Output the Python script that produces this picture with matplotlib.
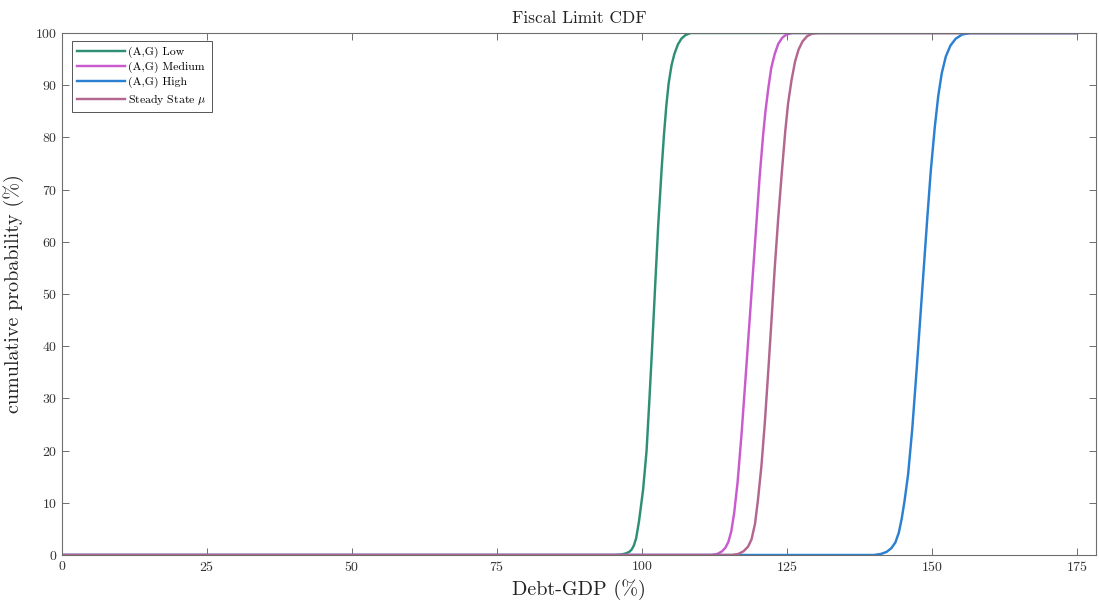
import matplotlib
matplotlib.use("Agg")
import matplotlib.pyplot as plt

# ── data (debt-GDP %, cumulative probability %) ─────────────────────────────

LOW_X = [0, 95.5, 96.5, 97.2, 97.8, 98.2, 98.6, 99.0, 99.5, 100.2, 100.8,
         101.3, 101.7, 102.3, 102.8, 103.4, 103.8, 104.2, 104.6, 105.1,
         105.6, 106.2, 106.8, 107.5, 108.4, 175]
LOW_Y = [0, 0, 0.1, 0.3, 0.6, 1.0, 1.8, 3.2, 6.5, 12.5, 20.0,
         30.0, 38.5, 52.0, 63.0, 74.0, 80.5, 86.0, 90.3, 93.8,
         96.0, 97.8, 98.9, 99.6, 100, 100]

MED_X = [0, 112.0, 113.0, 113.8, 114.4, 114.9, 115.4, 115.9, 116.5, 117.2,
         118.0, 118.6, 119.2, 119.8, 120.3, 120.9, 121.3, 121.8, 122.3,
         122.9, 123.5, 124.2, 124.9, 125.9, 175]
MED_Y = [0, 0, 0.2, 0.7, 1.4, 2.5, 4.5, 8.0, 14.0, 23.5,
         36.0, 45.5, 55.0, 64.5, 72.5, 80.5, 85.0, 89.5, 93.3,
         96.0, 97.9, 99.1, 99.7, 100, 100]

HIGH_X = [0, 140.0, 141.2, 142.2, 143.0, 143.7, 144.3, 144.8, 145.3, 145.9,
          146.6, 147.4, 148.0, 148.6, 149.2, 149.8, 150.5, 151.1, 151.7,
          152.4, 153.2, 154.1, 155.2, 156.6, 175]
HIGH_Y = [0, 0, 0.2, 0.6, 1.3, 2.4, 4.3, 7.0, 10.5, 15.5,
          24.0, 36.0, 45.5, 55.0, 64.5, 73.5, 82.0, 88.0, 92.3,
          95.5, 97.6, 98.9, 99.7, 100, 100]

SS_X = [0, 115.5, 116.6, 117.5, 118.3, 118.9, 119.5, 120.0, 120.6, 121.2,
        121.8, 122.4, 122.9, 123.5, 124.1, 124.7, 125.2, 125.8, 126.4,
        127.0, 127.7, 128.5, 129.4, 130.5, 175]
SS_Y = [0, 0, 0.2, 0.7, 1.6, 3.0, 6.0, 10.5, 17.0, 25.5,
        35.5, 46.0, 55.0, 64.5, 73.0, 81.0, 86.5, 91.0, 94.5,
        96.8, 98.4, 99.4, 99.9, 100, 100]

X_TICKS = [0, 25, 50, 75, 100, 125, 150, 175]
Y_TICKS = list(range(0, 101, 10))

# ── style ─────────────────────────────────────────────────────────────────────

plt.rcParams["font.family"] = "serif"
plt.rcParams["font.serif"] = ["cmr10", "DejaVu Serif"]
plt.rcParams["mathtext.fontset"] = "cm"
plt.rcParams["axes.formatter.use_mathtext"] = True

AX_COL = "#6e6e6e"
LW = 1.75

fig = plt.figure(figsize=(10.99, 6.03), dpi=100, facecolor="white")
ax = fig.add_axes([0.0564, 0.0796, 0.9409, 0.8657])

ax.plot(LOW_X, LOW_Y, color="#2f8f74", lw=LW, label="(A,G) Low")
ax.plot(MED_X, MED_Y, color="#c95bcf", lw=LW, label="(A,G) Medium")
ax.plot(HIGH_X, HIGH_Y, color="#2b80d2", lw=LW, label="(A,G) High")
ax.plot(SS_X, SS_Y, color="#b3668f", lw=LW, label=r"Steady State $\mu$")

ax.set_xlim(0, 178.3)
ax.set_ylim(0, 100)
ax.set_xticks(X_TICKS)
ax.set_yticks(Y_TICKS)

for spine in ax.spines.values():
    spine.set_color(AX_COL)
    spine.set_linewidth(0.8)
ax.tick_params(axis="both", direction="in", length=5, width=0.7,
               colors=AX_COL, labelcolor="#333333", labelsize=10,
               top=True, right=True)

ax.set_title("Fiscal Limit CDF", fontsize=12.5, color="#222222", pad=7)
ax.set_xlabel("Debt-GDP (%)", fontsize=14.5, color="#222222", labelpad=4)
ax.set_ylabel("cumulative probability (%)", fontsize=14.5, color="#222222",
              labelpad=8)

leg = ax.legend(loc="upper left", fontsize=8.5, fancybox=False, framealpha=1,
                edgecolor="#555555", handlelength=4.0, labelspacing=0.3,
                borderpad=0.45, handletextpad=0.3,
                bbox_to_anchor=(0.004, 0.995))
leg.get_frame().set_linewidth(0.7)

fig.savefig("out.png", dpi=100, facecolor="white")
